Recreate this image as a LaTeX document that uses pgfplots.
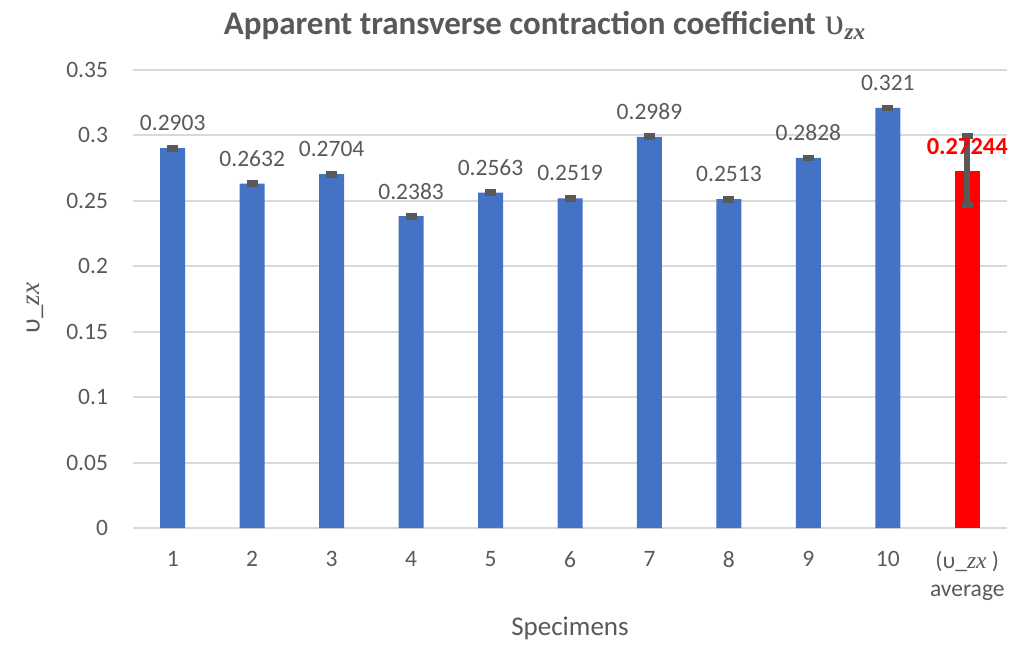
\documentclass[border=0pt]{standalone}
\usepackage{fontspec}
\setmainfont{Carlito}
\newfontfamily\cmath{Liberation Serif}
\usepackage{pgfplots}
\pgfplotsset{compat=1.18}
\definecolor{barblue}{HTML}{4472C4}
\definecolor{txtgray}{HTML}{595959}
\definecolor{gridgray}{HTML}{D9D9D9}
\definecolor{errgray}{HTML}{595959}

\begin{document}
\begin{tikzpicture}[x=1pt,y=1pt]
\begin{axis}[
  at={(0,0)}, anchor=south west,
  scale only axis, width=437pt, height=229pt,
  ybar, bar width=12.5pt, bar shift=0pt,
  xmin=-0.5, xmax=10.5, ymin=0, ymax=0.35,
  xtick={0,1,2,3,4,5,6,7,8,9,10},
  xticklabels={1,2,3,4,5,6,7,8,9,10,{(υ\_{\cmath\itshape zx} )\\average}},
  x tick label style={align=center, font=\fontsize{11.75}{14}\selectfont, text=txtgray, anchor=north, yshift=-4pt},
  ytick={0,0.05,0.1,0.15,0.2,0.25,0.3,0.35},
  scaled y ticks=false,
  y tick label style={font=\fontsize{11.75}{14}\selectfont, text=txtgray, xshift=-9pt,
    /pgf/number format/fixed, /pgf/number format/precision=2},
  /pgf/number format/assume math mode=true,
  ymajorgrids, grid style={gridgray, line width=1pt},
  axis line style={draw=none}, tick style={draw=none},
  clip=false,
  nodes near coords={\pgfmathprintnumber[fixed,precision=5,assume math mode=true]{\pgfplotspointmeta}},
  every node near coord/.append style={anchor=center, yshift=12.5pt,
    font=\fontsize{11.75}{14}\selectfont, text=txtgray},
  error bars/y dir=both, error bars/y explicit,
  error bars/error bar style={line width=3pt, draw=errgray},
  error bars/error mark options={draw=errgray, line width=3pt, mark size=2.75pt, rotate=90},
]
\addplot[fill=barblue, draw=none] coordinates {
  (0,0.2903) +- (0,0.0003)
  (1,0.2632) +- (0,0.0003)
  (2,0.2704) +- (0,0.0003)
  (3,0.2383) +- (0,0.0003)
  (4,0.2563) +- (0,0.0003)
  (5,0.2519) +- (0,0.0003)
  (6,0.2989) +- (0,0.0003)
  (7,0.2513) +- (0,0.0003)
  (8,0.2828) +- (0,0.0003)
  (9,0.3210) +- (0,0.0003)
};
\addplot[fill=red, draw=none,
  every node near coord/.append style={text=red, font=\fontsize{12.25}{14}\selectfont\bfseries}]
  coordinates {(10,0.27244) += (0,0.0272) -= (0,0.0256)};
\end{axis}
\node[text=txtgray, font=\fontsize{16.5}{18}\selectfont\bfseries] at (206pt,251.5pt)
  {Apparent transverse contraction coefficient\hspace{0.3em}{\cmath\mdseries\fontsize{19}{18}\selectfont υ}\textsubscript{\cmath\bfseries\itshape zx}};
\node[text=txtgray, font=\fontsize{13.5}{16}\selectfont, rotate=90] at (-49pt,110pt)
  {υ\_{\cmath\itshape zx}};
\node[text=txtgray, font=\fontsize{13.5}{16}\selectfont] at (218.5pt,-50pt) {Specimens};
\pgfresetboundingbox
\useasboundingbox (-66.5pt,-58pt) rectangle (447.5pt,264pt);
\end{tikzpicture}
\end{document}
